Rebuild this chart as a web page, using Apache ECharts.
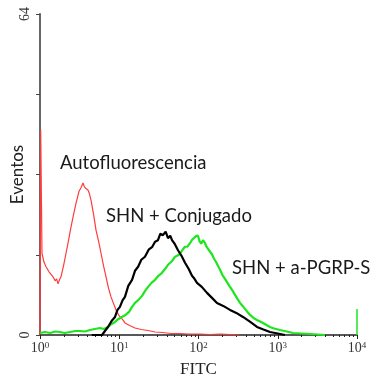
<!DOCTYPE html>
<html>
<head>
<meta charset="utf-8">
<script src="https://cdn.jsdelivr.net/npm/echarts@6/dist/echarts.min.js"></script>
<style>
  html, body { margin: 0; padding: 0; background: #fff; }
  #chart { width: 375px; height: 379px; }
</style>
</head>
<body>
<div id="chart"></div>
<script>
// FITC channel (log scale) and event counts
const redX = [1.0, 1.02, 1.06, 1.12, 1.19, 1.3, 1.46, 1.55, 1.62, 1.69, 1.76, 1.84, 1.98, 2.13, 2.3, 2.46, 2.65, 2.85, 3.1, 3.3, 3.49, 3.62, 3.8, 4.03, 4.2, 4.4, 4.75, 5.09, 5.5, 5.89, 6.3, 6.81, 7.3, 7.87, 8.5, 9.1, 10.0, 11.1, 11.8, 13.5, 15.8, 19.0, 23.0, 28.3, 35.0, 45.0, 58.4, 75.0, 104, 140, 190, 250, 320];
const redY = [0, 40.9, 16.3, 14.6, 13.6, 12.6, 11.6, 10.8, 11.2, 10.2, 11.0, 11.6, 13.8, 16.3, 19.0, 21.5, 24.0, 26.3, 28.6, 29.4, 30.3, 29.6, 29.2, 28.9, 28.2, 26.9, 24.0, 20.9, 18.6, 16.3, 14.0, 11.6, 9.4, 7.6, 6.2, 5.0, 3.8, 3.0, 2.4, 1.9, 1.4, 1.1, 0.9, 0.6, 0.5, 0.3, 0.3, 0.2, 0.2, 0.1, 0.2, 0.1, 0];

const blackX = [4.5, 6.06, 6.6, 7.21, 8.0, 8.84, 9.5, 10.2, 11.0, 11.8, 13.0, 14.5, 15.8, 17.3, 19.0, 21.1, 23.5, 25.9, 28.3, 30.8, 33.0, 35.6, 38.5, 41.2, 44.0, 46.3, 50.0, 55.1, 61.0, 67.6, 75.0, 82.8, 89.0, 95.7, 110, 128, 148, 171, 205, 250, 300, 364, 450, 547, 660, 798, 1000, 1233];
const blackY = [0, 0, 0.8, 1.6, 2.8, 3.6, 5.0, 5.6, 6.9, 7.6, 9.8, 11.0, 12.8, 13.6, 15.0, 15.6, 17.0, 17.5, 18.6, 18.9, 20.2, 19.9, 20.6, 19.3, 19.8, 18.9, 18.2, 16.9, 15.8, 14.4, 13.2, 11.8, 11.2, 10.4, 9.6, 8.4, 7.4, 6.4, 5.8, 5.0, 4.4, 3.6, 2.6, 1.6, 1.1, 0.6, 0.3, 0];

const greenX = [1.0, 1.15, 1.34, 1.55, 1.79, 2.05, 2.39, 2.8, 3.2, 3.7, 4.27, 4.9, 5.71, 6.4, 7.21, 8.0, 8.84, 9.8, 10.8, 12.0, 13.3, 14.5, 15.8, 17.5, 19.4, 21.2, 23.1, 25.5, 28.3, 31.2, 34.6, 38.0, 41.2, 45.5, 50.5, 54.0, 58.4, 63.0, 67.6, 72.5, 78.1, 83.0, 87.7, 93.0, 98.6, 103, 108, 114, 121, 126, 132, 140, 148, 157, 166, 176, 187, 200, 216, 232, 250, 270, 289, 310, 334, 360, 386, 415, 447, 495, 547, 600, 651, 720, 798, 900, 1067, 1300, 1557, 2000, 2553, 3200, 3946];
const greenY = [0.4, 0.6, 0.4, 0.7, 0.6, 0.4, 0.6, 0.8, 0.8, 0.7, 1.0, 1.2, 1.4, 1.2, 1.6, 2.2, 2.6, 3.2, 3.6, 4.0, 4.6, 5.6, 6.4, 7.0, 7.8, 8.8, 9.6, 10.4, 11.0, 11.8, 12.4, 13.2, 14.0, 14.6, 15.6, 15.8, 16.2, 17.0, 17.6, 17.6, 18.3, 19.0, 19.3, 19.7, 19.8, 18.7, 18.2, 18.9, 18.3, 17.6, 17.3, 16.6, 16.1, 15.2, 14.6, 13.8, 13.0, 12.0, 11.2, 10.4, 9.6, 8.8, 8.0, 7.2, 6.4, 5.8, 5.2, 4.6, 4.0, 3.4, 3.0, 2.7, 2.4, 2.0, 1.6, 1.3, 1.0, 0.7, 0.4, 0.3, 0.2, 0.1, 0];

const spikeX = [10000, 10000];
const spikeY = [0, 5.2];

const yTicks = [0, 16, 32, 48, 64];
const yShown = [0, 64];

const labels = [
  { text: 'Autofluorescencia', left: 60, top: 154 },
  { text: 'SHN + Conjugado', left: 106, top: 207 },
  { text: 'SHN + a-PGRP-S', left: 232, top: 259 }
];

function pairs(xs, ys) {
  return xs.map((x, i) => [x, ys[i]]);
}

const chart = echarts.init(document.getElementById('chart'));

const option = {
  animation: false,
  grid: { left: 40, right: 18, top: 14, bottom: 44, containLabel: false, outerBoundsMode: 'none' },
  xAxis: {
    type: 'log',
    logBase: 10,
    min: 1,
    max: 10000,
    name: 'FITC',
    nameLocation: 'middle',
    nameGap: 26,
    nameMoveOverlap: false,
    nameTextStyle: { fontFamily: 'Liberation Serif', fontSize: 17, color: '#222' },
    axisLine: { lineStyle: { color: '#222', width: 1.5 } },
    axisTick: { show: true, inside: false, length: 4, lineStyle: { color: '#222' } },
    minorTick: { show: true, splitNumber: 9, length: 2, lineStyle: { color: '#222' } },
    splitLine: { show: false },
    axisLabel: {
      margin: 6,
      fontFamily: 'Liberation Serif',
      fontSize: 14,
      color: '#333',
      formatter: function (v) {
        return '10{sup|' + Math.round(Math.log10(v)) + '}';
      },
      rich: {
        sup: { fontSize: 9, verticalAlign: 'top', fontFamily: 'Liberation Serif', color: '#333' }
      }
    }
  },
  yAxis: {
    type: 'value',
    min: yTicks[0],
    max: yTicks[yTicks.length - 1],
    interval: 16,
    name: 'Eventos',
    nameLocation: 'middle',
    nameGap: 14,
    nameMoveOverlap: false,
    nameTextStyle: { fontFamily: 'Lato', fontSize: 17, color: '#222' },
    axisLine: { show: true, lineStyle: { color: '#666', width: 2 } },
    axisTick: { show: true, inside: false, length: 4, lineStyle: { color: '#444' } },
    splitLine: { show: false },
    axisLabel: {
      rotate: 90,
      margin: 8,
      fontFamily: 'Liberation Serif',
      fontSize: 14,
      color: '#333',
      formatter: function (v) {
        return yShown.indexOf(v) >= 0 ? String(v) : '';
      }
    }
  },
  series: [
    {
      type: 'line', data: pairs(redX, redY), symbol: 'none', clip: false,
      lineStyle: { color: '#ff3b3b', width: 1.2 }
    },
    {
      type: 'line', data: pairs(greenX, greenY), symbol: 'none', clip: false,
      lineStyle: { color: '#1ee61e', width: 2.2 }
    },
    {
      type: 'line', data: pairs(spikeX, spikeY), symbol: 'none', clip: false,
      lineStyle: { color: '#1ee61e', width: 1.5 }
    },
    {
      type: 'line', data: pairs(blackX, blackY), symbol: 'none', clip: false,
      lineStyle: { color: '#000', width: 2.2 }
    }
  ],
  graphic: labels.map(l => ({
    type: 'text',
    left: l.left,
    top: l.top,
    style: { text: l.text, font: '18.5px Lato', fill: '#1a1a1a' }
  }))
};

chart.setOption(option);
</script>
</body>
</html>
